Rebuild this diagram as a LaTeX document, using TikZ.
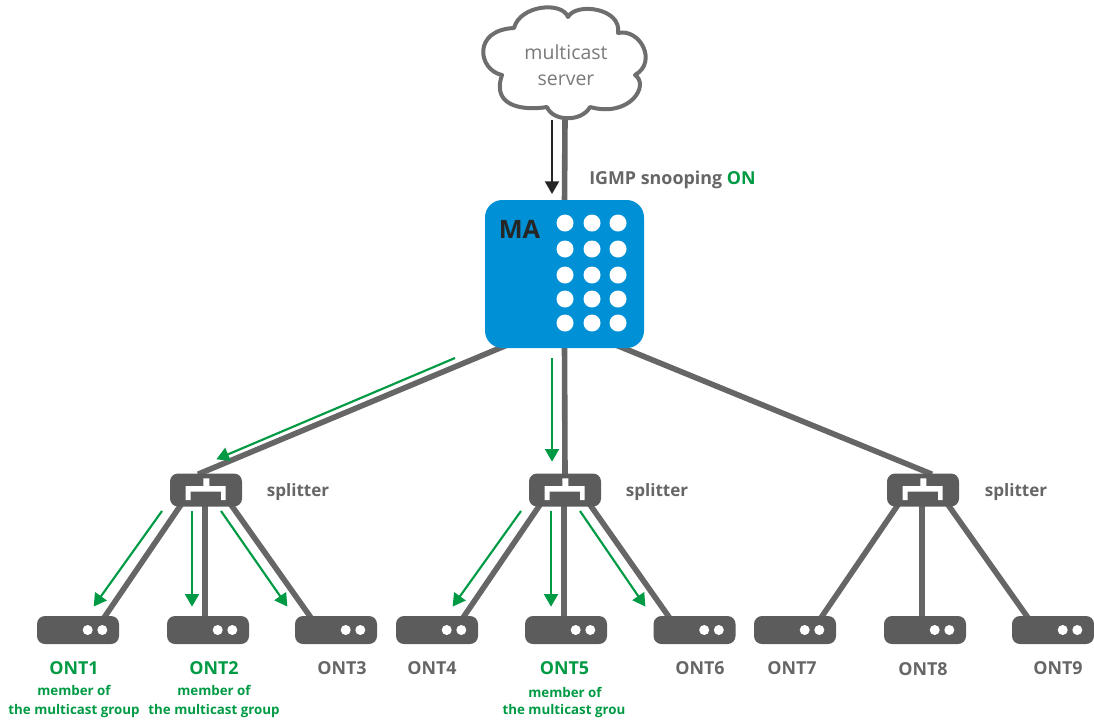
\documentclass[tikz,border=0pt]{standalone}
\usepackage{fontspec}
\setmainfont{Open Sans}
\usetikzlibrary{arrows.meta,calc,backgrounds}
\definecolor{fibre}{HTML}{666666}
\definecolor{dev}{HTML}{5C5C5C}
\definecolor{txt}{HTML}{666666}
\definecolor{lite}{HTML}{7A7A7A}
\definecolor{grn}{HTML}{009A44}
\definecolor{blu}{HTML}{0090D6}
\tikzset{
  fibreline/.style={draw=fibre,line width=4.2pt},
  flowg/.style={draw=grn,line width=1.6pt,-{Triangle[length=9.5pt,width=10.5pt]},shorten >=-.5pt},
  flowk/.style={draw=black!85,line width=1.6pt,-{Triangle[length=9.5pt,width=10.5pt]}},
  ontbox/.style={fill=dev,rounded corners=6pt,minimum width=61.5pt,minimum height=21pt,inner sep=0pt},
  splitbox/.style={fill=dev,rounded corners=6pt,minimum width=54pt,minimum height=24.75pt,inner sep=0pt},
  lab/.style={inner sep=0pt,font=\bfseries\fontsize{13.4pt}{14pt}\selectfont},
  sublab/.style={inner sep=0pt,text=grn,font=\bfseries\fontsize{10pt}{11pt}\selectfont},
  spl/.style={inner sep=0pt,text=txt,font=\bfseries\fontsize{12.8pt}{14pt}\selectfont},
}
\begin{document}
\begin{tikzpicture}[x=.75pt,y=-.75pt]
\useasboundingbox (0,0) rectangle (1094,722);

% devices
\node[fill=blu,rounded corners=13pt,minimum width=119.25pt,minimum height=111pt,inner sep=0pt] (ma) at (564.5,274) {};
\node[splitbox] (sp1) at (206,490) {};
\node[splitbox] (sp2) at (565,490) {};
\node[splitbox] (sp3) at (923,490) {};
\foreach \n/\x in {1/78,2/208,3/336,4/437,5/566,6/694.5,7/795,8/925,9/1053}{
  \node[ontbox] (ont\n) at (\x,630) {};
  \fill[white] (\x+9.7,630) circle[radius=5] (\x+24.3,630) circle[radius=5];
}

% cloud
\draw[draw=lite!90!black,line width=3pt,fill=white,line join=round]
  (514,28) .. controls (520,5) and (562,1) .. (568,17)
  .. controls (576,2) and (622,8) .. (618,33)
  .. controls (640,28) and (658,62) .. (635,75)
  .. controls (650,85) and (630,118) .. (590,107)
  .. controls (582,122) and (553,122) .. (547,107)
  .. controls (530,110) and (490,110) .. (502,75)
  .. controls (478,70) and (472,30) .. (514,28) -- cycle;
\node[inner sep=0pt,text=lite,font=\fontsize{14.6pt}{16pt}\selectfont] (srv1) at (566,52) {multicast};
\node[inner sep=0pt,text=lite,font=\fontsize{14.6pt}{16pt}\selectfont] (srv2) at (566,80) {server};
\coordinate (cloudfoot) at (565,118);

% fibres
\begin{scope}[on background layer]
\draw[fibreline] (cloudfoot) -- ($(ma.north)+(0,3)$);
\draw[fibreline] ($(ma.south)+(-58,-3)$) -- ($(sp1.north)+(-8,1)$);
\draw[fibreline] ($(ma.south)+(0,-3)$) -- ($(sp2.north)+(0,3)$);
\draw[fibreline] ($(ma.south)+(52,-3)$) -- ($(sp3.north)+(9,1)$);
\foreach \s/\a/\b/\c/\m in {1/1/2/3/-3,2/4/5/6/-2,3/7/8/9/-3}{
  \draw[fibreline] ($(sp\s.south)+(-25,-2)$) -- ($(ont\a.north)+(26,2)$);
  \draw[fibreline] ($(sp\s.south)+(-1,-2)$) -- ($(ont\b.north)+(\m,2)$);
  \draw[fibreline] ($(sp\s.south)+(25,-2)$) -- ($(ont\c.north)+(-25,2)$);
}
\end{scope}

% splitter marks
\foreach \s in {sp1,sp2,sp3}{
  \fill[white] ($(\s)+(-20.3,10)$) -- ($(\s)+(-20.3,-4)$) -- ($(\s)+(-2.7,-4)$) -- ($(\s)+(-2.7,-11.7)$)
    -- ($(\s)+(3.3,-11.7)$) -- ($(\s)+(3.3,-4)$) -- ($(\s)+(19.7,-4)$) -- ($(\s)+(19.7,10)$)
    -- ($(\s)+(15,10)$) -- ($(\s)+(15,1.7)$) -- ($(\s)+(-15.3,1.7)$) -- ($(\s)+(-15.3,10)$) -- cycle;
}

% MA face
\foreach \x in {565,592,618}{\foreach \y in {223,249,275,299,323}{
  \fill[white] (\x,\y) circle[radius=8.5];
}}
\node[inner sep=0pt,text=black!85,font=\bfseries\fontsize{19pt}{20pt}\selectfont] (malab) at (519.5,229) {MA};

% flows
\coordinate (k1s) at (552,120); \coordinate (k1e) at (552,194);
\draw[flowk] (k1s) -- (k1e);
\foreach \n/\xa/\ya/\xb/\yb in {1/455/358/217/459,2/552/358/552/461,3/162/511/94/606,4/192/511/192/606,5/221/511/287/606,6/521/511/453/606,7/551/511/551/606,8/580/511/645/606}{
  \coordinate (g\n s) at (\xa,\ya);
  \coordinate (g\n e) at (\xb,\yb);
  \draw[flowg] (g\n s) -- (g\n e);
}

% labels
\node[spl,anchor=west,font=\bfseries\fontsize{13.4pt}{14pt}\selectfont] (igmp) at (589,180) {IGMP snooping \textcolor{grn}{ON}};
\node[spl] (sl1) at (298,492) {splitter};
\node[spl] (sl2) at (657,492) {splitter};
\node[spl] (sl3) at (1016,492) {splitter};
\node[lab,text=grn] (l1) at (74,668) {ONT1};
\node[lab,text=grn] (l2) at (214,668) {ONT2};
\node[lab,text=txt] (l3) at (342,668) {ONT3};
\node[lab,text=txt] (l4) at (432,668) {ONT4};
\node[lab,text=grn] (l5) at (564.5,668) {ONT5};
\node[lab,text=txt] (l6) at (700,668) {ONT6};
\node[lab,text=txt] (l7) at (792,668) {ONT7};
\node[lab,text=txt] (l8) at (923,669) {ONT8};
\node[lab,text=txt] (l9) at (1058,668) {ONT9};
\node[sublab] (m1) at (74,690) {member of};
\node[sublab] (g1) at (74,711) {the multicast group};
\node[sublab] (m2) at (214,690) {member of};
\node[sublab] (g2) at (214,711) {the multicast group};
\node[sublab] (m5) at (565,692) {member of};
\node[sublab] (g5) at (564,711) {the multicast grou};
\end{tikzpicture}
\end{document}
